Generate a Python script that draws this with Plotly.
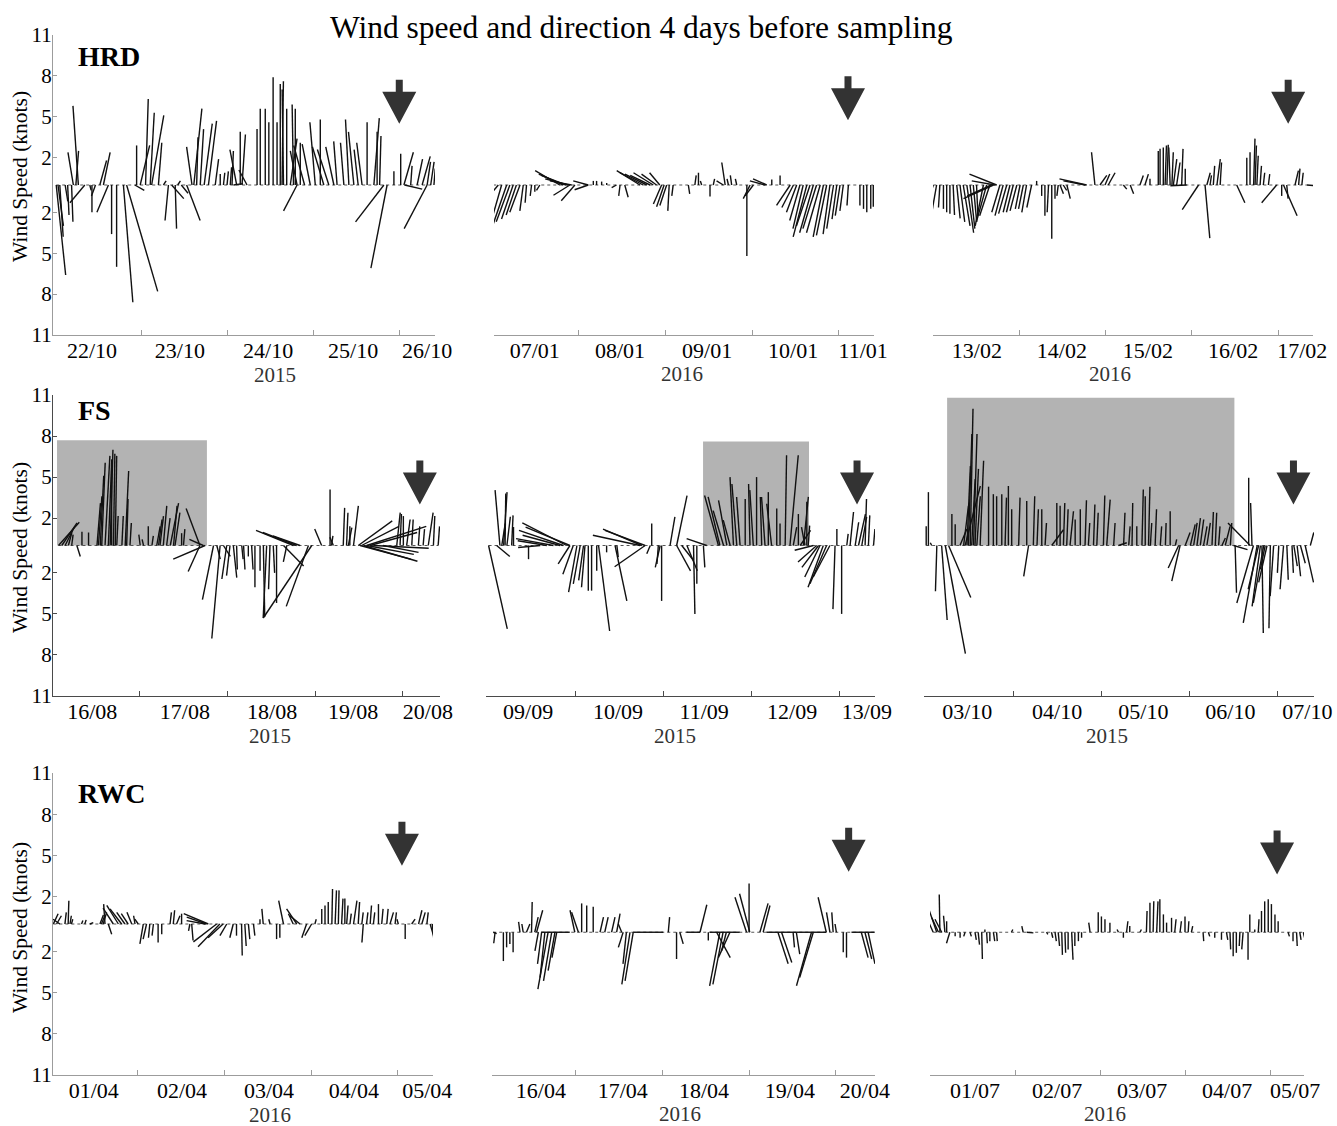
import plotly.graph_objects as go

FONT = "Liberation Serif"
W, H = 1337, 1126
K = 3.78  # hours of x drawn per knot of the east-west component (keeps stick angles true)

# ---------------- HRD : 22-26 Oct 2015 ----------------
hrd_oct_h = [0.0, 0.5, 1.0, 2.5, 3.2, 4.3, 4.8, 5.5, 6.2, 8.0, 9.4, 10.0, 11.0, 12.2, 13.2, 14.6, 15.5, 16.9, 18.8, 19.7,
             22.0, 22.5, 23.5, 25.0, 26.3, 26.7, 28.6, 30.0, 31.4, 32.3, 33.3, 34.0, 35.0, 36.5, 38.0, 38.5, 39.3, 40.3,
             41.4, 42.6, 44.5, 45.9, 46.8, 47.8, 48.7, 49.2, 49.6, 50.5, 51.5, 52.0, 53.4, 56.2, 57.1, 58.5, 59.5, 60.7,
             61.8, 62.7, 63.2, 63.6, 64.5, 65.5, 66.4, 66.9, 67.4, 67.4, 68.3, 69.5, 71.1, 72.5, 73.9, 74.9, 76.3, 77.7,
             78.6, 80.5, 81.9, 83.3, 84.5, 85.6, 87.0, 88.9, 89.8, 90.5, 91.7, 92.6, 94.5, 96.4, 97.3, 97.5, 99.2, 101.0,
             102.4, 103.8, 103.8, 104.8, 105.7]
hrd_oct_u = [0.7, 0.4, 0.25, 0.2, 0.1, 0.1, -0.4, 0.2, -0.4, -1.1, 0.1, 0.0, -0.3, 0.5, 0.5, -0.85, 0.0, 0.0, 0.7, 2.3,
             0.7, 0.0, 0.7, 0.2, 0.3, 0.9, 0.25, 0.2, -0.25, 0.9, 0.1, 0.2, 0.5, 1.0, -0.4, 0.6, 0.1, 0.25,
             0.6, 0.6, 0.25, 0.0, 0.1, 0.1, 0.1, 0.1, 0.7, -0.5, 0.0, 0.25, -0.6, 0.0, 0.0, 0.0, 0.0, 0.0,
             0.0, 0.0, 0.1, -0.1, 0.0, 0.5, -0.1, 0.0, -0.5, -1.0, 0.0, -0.8, -0.6, -0.4, 0.0, -0.85, -0.85, -0.6,
             -0.25, -0.25, -0.25, -0.4, -0.3, -0.4, 0.0, 0.4, 0.0, 0.1, -2.1, -1.2, 0.0, 0.0, 0.7, 1.3, 0.1, 0.4,
             0.6, -1.7, 0.25, 0.25, 0.1]
hrd_oct_v = [-6.6, -3.0, -3.8, -1.2, -2.2, -2.7, 2.4, 2.5, 5.8, -1.3, -0.4, -2.0, -0.8, 1.8, 2.4, -2.0, -3.6, -6.0, -8.6, -7.8,
             -0.4, 2.9, 2.9, 6.3, 5.3, 5.1, 3.1, 0.3, -2.6, -1.0, -3.2, 0.3, -0.6, -2.6, 2.8, 5.6, 3.5, 4.1,
             4.5, 4.7, 1.9, 0.8, 0.9, 1.0, 1.3, 2.5, 0.1, 2.6, 3.9, 3.7, 1.1, 4.1, 5.6, 5.6, 4.6, 7.9,
             4.6, 7.4, 7.6, 7.0, 5.6, 3.4, 5.9, 5.6, 2.5, -1.9, 3.1, 2.9, 3.0, 4.6, 4.8, 2.8, 2.6, 2.8,
             3.2, 3.1, 4.8, 3.9, 2.6, 3.1, 4.6, 4.9, 3.9, 3.6, -2.7, -6.1, 1.0, 2.3, 2.4, -0.3, 1.4, 1.9,
             2.1, -3.2, 1.7, 1.7, 1.2]

# ---------------- HRD : 07-11 Jan 2016 ----------------
hrd_jan_h = [0.3, 1.7, 2.6, 4.0, 4.9, 5.8, 6.7, 7.7, 8.6, 9.5, 10.9, 11.8, 13.2, 18.7, 19.7, 20.4, 21.1, 22.0, 22.9, 21.5,
             26.6, 26.6, 28.0, 28.9, 30.3, 31.7, 34.4, 35.4, 36.7, 40.9, 41.8, 42.8, 43.7, 44.6, 45.5, 46.4, 46.9, 47.6,
             48.3, 49.0, 50.1, 54.3, 56.1, 57.1, 58.0, 60.3, 61.2, 64.0, 64.5, 65.4, 66.3, 67.7, 70.5, 71.4, 72.3, 75.5,
             76.0, 77.4, 79.7, 82.5, 83.4, 84.3, 85.2, 86.1, 87.1, 88.0, 88.9, 89.8, 90.8, 91.7, 92.6, 93.5, 94.5, 95.4,
             96.3, 97.2, 98.6, 101.8, 102.8, 103.7, 104.8, 105.5]
hrd_jan_u = [-1.2, -1.1, -1.0, -1.1, -1.0, -0.85, -0.75, -0.75, -0.25, -0.1, -0.1, 0.0, -0.25, -1.8, -1.8, -1.8, -1.7, -1.6, -1.0, -1.2,
             -1.1, -1.0, 0.0, 0.0, 0.0, 0.0, -0.35, -0.1, 0.25, -1.7, -1.7, -1.6, -1.45, -1.45, -1.1, -0.75, -0.6, -0.55,
             -0.5, -0.1, -0.1, 0.1, 0.1, 0.0, -0.1, 0.0, 0.1, -0.5, -0.25, -0.1, -0.1, -0.1, 0.0, -0.5, -0.6, -1.1,
             -1.0, 0.0, 0.0, -1.0, -0.85, -0.75, -0.75, -0.75, -1.0, -1.0, -1.0, -1.0, -1.0, -0.75, -0.75, -0.5, -0.5, -0.35,
             -0.35, -0.25, -0.1, 0.0, 0.0, 0.0, 0.0, 0.0]
hrd_jan_v = [-1.9, -1.3, -3.5, -3.2, -2.7, -2.5, -2.2, -2.0, -1.9, -1.3, -0.8, -0.5, -0.4, 1.05, 0.8, 0.7, 0.45, 0.3, -1.15, -0.75,
             0.3, -0.35, 0.3, 0.3, 0.25, 0.15, -0.2, -0.8, -0.9, 1.05, 0.9, 0.8, 0.7, 0.9, 0.8, 0.9, -1.4, -1.6,
             -1.5, -1.9, -0.8, -0.65, 0.7, 0.9, 0.3, -0.85, 0.45, 0.3, 1.65, 0.45, 0.7, 0.45, -5.2, -1.0, -0.8, 0.3,
             0.45, 0.4, 0.7, -1.5, -1.65, -2.0, -2.6, -3.2, -3.8, -3.0, -3.5, -3.2, -3.5, -3.8, -3.7, -3.6, -3.2, -2.5,
             -2.25, -1.9, -1.5, -1.5, -1.75, -2.0, -1.75, -1.6]

# ---------------- HRD : 13-17 Feb 2016 ----------------
hrd_feb_h = [0.2, 1.1, 2.0, 3.0, 3.9, 4.8, 5.7, 6.7, 7.6, 8.5, 9.5, 10.4, 11.3, 12.2, 14.1, 15.0, 15.9, 16.4, 16.9, 17.3,
             17.8, 18.7, 19.6, 20.6, 21.5, 22.4, 23.4, 24.3, 25.2, 26.1, 27.5, 28.9, 30.3, 31.2, 32.2, 33.1, 34.0, 34.9,
             35.4, 36.3, 37.3, 42.4, 42.8, 45.1, 46.5, 47.9, 48.8, 53.0, 54.9, 57.6, 59.0, 60.4, 62.7, 63.2, 64.1, 64.6,
             65.1, 66.0, 66.5, 66.9, 67.8, 69.2, 70.2, 70.6, 73.9, 75.7, 76.2, 77.1, 78.0, 79.0, 79.9, 84.5, 87.3, 88.2,
             89.2, 89.6, 90.1, 91.0, 91.9, 93.3, 95.6, 97.0, 97.5, 98.4, 100.7, 101.7, 102.6, 104.0]
hrd_feb_u = [-0.6, -0.35, -0.1, 0.0, 0.0, 0.0, 0.1, 0.25, 0.35, 0.5, 0.5, 0.35, 0.25, 0.1, -0.6, -0.75, -0.75, -1.8, -2.2, -1.7,
             -2.0, -0.6, -0.6, -0.6, -0.5, -0.5, -0.5, -0.35, -0.35, -0.35, -0.35, 0.0, 0.0, 0.0, -0.1, 0.0, 0.0, -0.1,
             0.25, 0.25, 0.25, -1.6, -2.0, -0.25, 0.5, 0.35, 0.5, 0.25, 0.25, 0.25, 0.25, 0.0, 0.0, 0.0, 0.0, 0.1,
             0.1, -0.1, 0.1, 0.25, 0.25, 0.1, 0.0, -1.2, -1.2, 0.35, 0.25, 0.1, 0.1, 0.25, 0.1, 0.6, 0.0, 0.0,
             0.1, 0.1, 0.1, 0.1, 0.1, 0.1, -1.1, 0.0, 1.0, 0.1, 0.25, 0.1, 0.1, 0.6]
hrd_feb_v = [-1.75, -2.0, -1.65, -1.75, -2.0, -2.1, -2.2, -2.45, -2.7, -3.0, -3.5, -3.2, -2.7, -2.25, -3.0, -2.7, -2.25, -0.8, -1.0, 0.3,
             0.8, -2.0, -2.25, -2.1, -2.0, -2.0, -1.9, -1.75, -1.75, -2.0, -1.65, 0.3, -0.8, -2.25, -2.0, -3.95, -1.0, -0.8,
             -0.65, -0.4, -1.0, 0.3, 0.45, 2.4, 0.7, 0.8, 0.9, -0.3, -0.65, 0.7, 0.8, 0.45, 2.5, 2.65, 2.75, 2.9,
             2.95, 2.75, 2.4, 1.9, 1.65, 2.65, 1.2, -0.05, -1.8, -3.9, 0.9, 0.7, 1.4, 1.9, 1.65, -1.3, 2.0, 2.4,
             3.4, 2.9, 2.15, 1.4, 0.9, 0.8, -1.3, -0.8, -2.25, -1.0, 1.05, 1.2, 0.9, -0.05]

# ---------------- FS : 16-20 Aug 2015 ----------------
fs_aug_h = [2.0, 2.9, 3.8, 4.7, 5.6, 7.0, 8.4, 10.2, 12.5, 12.9, 13.4, 13.8, 14.7, 15.6, 16.1, 16.5, 17.0, 17.5, 17.9, 19.3,
            20.2, 20.6, 21.5, 24.3, 25.2, 26.5, 27.5, 28.8, 29.3, 29.7, 30.6, 31.5, 32.5, 33.4, 33.8, 35.6, 36.1, 40.6,
            41.5, 42.0, 40.6, 44.3, 46.1, 45.2, 47.0, 47.9, 48.8, 49.7, 50.6, 52.0, 52.5, 53.8, 54.7, 55.6, 57.0, 57.9,
            58.8, 59.7, 60.6, 61.5, 71.1, 70.2, 66.1, 67.0, 67.9, 63.4, 64.3, 73.8, 76.1, 76.5, 77.0, 79.7, 80.6, 81.1,
            81.5, 82.5, 83.8, 84.7, 86.1, 87.0, 84.3, 85.2, 86.1, 87.9, 90.6, 94.3, 95.2, 96.1, 97.0, 98.4, 100.2, 101.5,
            102.9, 104.3, 105.6]
fs_aug_u = [1.5, 1.1, 0.65, 0.25, 0.1, 0.25, 0.0, 0.0, 0.25, 0.25, 0.25, 0.25, 0.35, 0.25, 0.2, 0.0, 0.1, 0.1, 0.1, 0.1,
            0.25, 0.1, 0.1, -0.1, -0.1, 0.0, 0.1, 0.25, 0.25, 0.25, 0.25, 0.25, 0.6, 0.25, 0.35, 0.0, 0.1, -1.0,
            -1.0, -2.3, -0.85, -0.8, -0.6, 0.25, 0.5, -0.35, -0.25, 0.25, 0.05, 0.1, 0.1, 0.0, 0.1, 0.0, 0.0, 0.1,
            -0.25, -0.1, 0.1, 0.0, -3.5, -1.6, -2.7, -2.45, -1.95, 1.45, -0.25, -0.5, 0.0, 0.1, -0.25, 0.1, 0.1, 0.25,
            0.0, 0.35, 2.45, 2.7, 4.3, 3.4, 3.65, 3.9, 3.4, 4.0, 2.55, 0.25, 0.1, 0.0, 0.25, 0.1, 0.1, 0.1,
            0.35, 0.1, 0.1]
fs_aug_v = [1.7, 1.65, 1.3, 0.95, 0.8, -0.8, 1.0, 0.95, 3.1, 3.6, 5.1, 6.05, 6.55, 6.3, 7.0, 6.05, 6.7, 6.55, 2.15, 2.15,
            5.45, 3.4, 1.65, 0.8, 0.45, 1.4, 0.7, 1.4, 1.9, 2.15, 2.9, 2.0, 3.1, 2.9, 2.4, 0.9, 1.2, 2.7,
            0.45, -1.0, -1.9, -3.95, -6.8, -1.0, -0.8, -2.45, -2.2, -2.35, -1.75, -1.0, -1.75, -0.8, -1.75, -3.05, -1.85, -5.2,
            -5.3, -3.2, -2.0, -4.2, -5.3, -4.45, 1.1, 0.95, 0.7, -1.5, -1.2, 1.2, 4.1, 0.7, 0.6, 2.75, 2.4, 1.3,
            1.4, 2.9, 1.8, 1.4, 1.4, 0.95, -1.0, -1.15, -0.65, -0.2, -0.5, 2.4, 2.3, 2.15, 1.9, 1.9, 1.4, 1.2,
            2.4, 2.15, 1.4]

# ---------------- FS : 09-13 Sep 2015 ----------------
fs_sep_h = [0.4, 2.6, 3.5, 4.5, 4.9, 4.0, 5.4, 6.7, 7.2, 11.3, 14.5, 16.3, 18.1, 19.9, 20.8, 21.7, 22.6, 22.6, 23.5, 24.5,
            25.4, 26.3, 26.7, 27.6, 28.5, 29.9, 30.4, 32.6, 34.9, 35.4, 41.7, 42.2, 43.1, 43.1, 44.5, 44.9, 46.7, 47.2,
            47.6, 49.9, 51.7, 51.7, 53.1, 54.5, 56.3, 57.2, 59.0, 59.9, 63.1, 63.5, 64.5, 65.4, 66.3, 67.2, 68.1, 69.0,
            70.4, 71.7, 72.6, 73.5, 74.9, 75.8, 76.7, 77.6, 79.0, 79.9, 81.3, 82.6, 83.5, 84.9, 85.4, 86.3, 86.7, 87.2,
            87.6, 89.0, 89.9, 90.4, 90.8, 91.7, 92.6, 93.5, 94.9, 95.4, 96.7, 98.1, 99.0, 100.4, 101.3, 102.2, 103.1, 104.0,
            105.4]
fs_sep_u = [1.35, 0.95, -0.35, 0.25, 0.05, 0.25, 0.25, 0.1, 0.0, 0.0, -1.6, -2.1, -2.7, -2.7, -3.2, -3.2, -3.2, -0.85, -0.75, -0.6,
            -0.5, -0.35, -0.25, 0.0, 0.0, 0.0, 0.8, 0.0, 0.85, 0.1, -3.4, -2.8, -2.9, -2.2, -0.25, 0.0, -0.1, -0.35,
            0.0, 0.35, 0.75, 1.0, 0.85, 0.75, 0.1, 0.0, 0.1, -1.45, -1.0, -0.85, -0.75, -0.6, -0.5, -0.25, -0.35, -0.25,
            0.0, -0.1, -0.25, 0.0, -0.1, -0.25, 0.0, -0.35, 0.0, 0.0, 0.1, 0.6, 0.25, 0.0, 0.75, 0.35, -0.25, 0.0,
            0.1, -1.35, -1.35, -1.2, -1.1, -1.1, -1.2, -1.2, -0.15, 0.0, 0.0, 0.1, 0.25, 0.25, 0.5, 0.35, 0.1, 0.1,
            0.1]
fs_sep_v = [-6.1, -0.8, 4.05, 3.9, 3.8, 1.6, 2.1, 2.2, 1.35, -1.0, -0.15, 0.35, 0.5, 0.75, 1.1, 1.65, 1.35, -1.35, -2.1, -3.4,
            -2.8, -2.55, -3.05, -3.3, -3.3, -1.85, -6.25, -0.5, -4.05, -0.85, 0.75, 1.2, 1.1, -1.55, -0.6, 1.6, -1.35, -1.6,
            -4.05, 2.1, 3.65, -1.85, -1.1, -1.85, -5.0, -2.8, -1.6, 0.5, 3.65, 3.55, 2.55, 3.3, 1.85, 5.0, 4.5, 3.55,
            3.4, 4.5, 4.05, 5.0, 3.55, 3.55, 3.9, 3.05, 2.7, 1.6, 6.6, 6.6, 1.35, 2.3, 1.1, 3.55, 1.35, 3.2,
            1.45, -0.35, -1.2, -1.6, -2.3, -3.05, -2.8, -2.3, -4.65, 1.2, -5.0, 0.85, 2.45, 1.7, 2.3, 2.1, 3.4, 2.2,
            1.2]

# ---------------- FS : 03-07 Oct 2015 ----------------
fs_oct_h = [0.3, 0.9, 1.8, 3.2, 4.5, 5.5, 6.4, 7.3, 8.2, 9.5, 10.5, 10.9, 11.4, 11.8, 12.3, 12.7, 13.2, 13.6, 14.1, 15.0,
            17.3, 18.6, 19.5, 20.9, 21.8, 22.7, 23.6, 25.5, 27.7, 28.2, 29.5, 30.5, 31.8, 32.7, 34.5, 35.9, 36.8, 37.7,
            38.6, 39.5, 40.9, 42.3, 43.6, 44.5, 45.9, 46.8, 48.6, 49.5, 51.4, 52.7, 54.1, 55.5, 56.4, 57.7, 59.1, 60.0,
            60.9, 61.4, 62.7, 64.1, 65.5, 66.8, 68.2, 69.1, 69.5, 70.9, 72.3, 73.2, 74.1, 75.0, 75.9, 76.8, 78.2, 79.1,
            80.0, 80.9, 81.8, 83.2, 84.1, 84.5, 88.2, 88.6, 89.1, 89.5, 90.5, 90.9, 91.4, 91.8, 92.3, 92.7, 93.2, 94.1,
            95.0, 96.4, 97.7, 98.6, 100.0, 100.5, 101.4, 102.3, 103.6, 105.0]
fs_oct_u = [0.0, 0.0, -0.1, -0.1, 0.4, 1.45, 1.6, 0.0, 0.0, 0.5, 0.35, 1.1, 0.25, 0.25, 0.2, 0.25, 0.25, 0.25, 0.25, 0.25,
            0.0, 0.0, 0.0, 0.0, 0.1, 0.0, 0.0, 0.1, 0.0, -0.35, 0.1, 0.1, 0.0, 0.1, 0.85, 0.0, 0.0, 0.1,
            0.1, 0.25, 0.0, 0.0, 0.1, 0.1, 0.1, 0.1, 0.1, 0.25, 0.1, 0.6, 0.1, 0.1, 0.05, 0.0, 0.1, 0.0,
            0.1, 0.1, 0.1, 0.1, 0.05, 0.0, 0.1, -0.75, -0.6, 0.35, 0.35, 0.25, 0.25, 0.25, 0.25, 0.25, 0.1, 0.1,
            0.1, 0.25, 0.35, 0.1, 1.0, 0.1, 0.0, -1.6, -0.1, -1.2, -1.0, -0.75, -0.6, 0.1, -0.75, -0.35, -0.6, -0.1,
            -0.25, -0.1, -0.25, 0.1, 0.1, 0.25, 0.25, 0.35, 0.6, 0.25]
fs_oct_v = [1.4, 3.9, 0.2, -3.35, -5.45, -7.9, -3.8, 2.3, 1.55, 1.2, 2.9, 4.35, 5.8, 8.15, 10.0, 4.85, 8.15, 5.6, 3.6, 6.2,
            4.3, 3.75, 3.6, 3.75, 3.5, 4.35, 2.65, 3.5, 3.25, -2.25, 3.6, 2.65, 2.65, 1.65, 1.15, 3.1, 2.9, 3.1,
            2.65, 2.5, 1.9, 2.65, 3.3, 1.65, 3.0, 2.4, 3.65, 3.35, 1.65, 0.2, 2.4, 1.4, 3.1, 1.4, 4.1, 3.6,
            4.3, 1.65, 2.65, 1.4, 1.65, 2.5, 0.45, -1.65, -2.6, 0.95, 1.55, 1.65, 2.0, 1.9, 1.4, 1.65, 2.45, 2.4,
            1.4, 0.55, 1.4, 1.65, -0.3, -3.45, 4.95, 1.65, 3.1, -4.2, -5.65, -3.2, -4.45, -6.4, -4.2, -1.75, -2.7, -6.05,
            -3.7, -2.0, -3.2, -2.5, -2.0, -1.5, -2.25, -1.3, -2.7, 0.95]

# ---------------- RWC : 01-05 Apr 2016 ----------------
rwc_apr1_h = [0.6, 1.5, 2.4, 3.8, 4.7, 5.2, 5.6, 8.4, 9.3, 10.7, 13.5, 13.9, 14.4, 14.9, 15.8, 17.2, 18.6, 19.5, 20.4, 21.3,
              22.3, 23.2, 24.1, 25.5, 26.4, 27.3, 28.3, 29.6, 30.6, 32.9, 33.8, 34.7, 36.1, 38.4, 38.9, 42.6, 43.0, 43.5,
              45.8, 46.7, 47.6, 48.6, 50.4, 51.3, 52.7, 53.6, 54.6, 56.0, 57.8, 58.7, 60.6, 62.4, 63.3, 64.3, 67.0, 68.0,
              68.9, 70.7, 72.1, 73.0, 74.9, 75.8, 76.7, 77.7, 78.6, 79.5, 80.4, 81.3, 81.8, 82.7, 83.7, 85.0, 86.0, 86.4,
              87.3, 88.3, 89.2, 90.6, 91.5, 92.9, 93.8, 95.2, 96.1, 98.0, 99.8, 101.7, 102.6, 104.0, 104.9, 105.5]
rwc_apr1_u = [0.35, 0.35, -0.5, 0.1, 0.05, 0.1, 0.1, 0.1, 0.1, 0.25, 0.25, 0.25, 0.25, -0.1, 0.25, -0.75, -0.85, -0.85, -0.6, -0.5,
              -0.35, -0.1, -0.25, -0.25, -0.25, -0.1, -0.1, 0.0, 0.0, 0.1, 0.1, 0.25, 0.0, -0.1, 0.1, -1.35, -1.45, -1.8,
              -1.7, -1.6, -1.1, -0.5, -0.25, 0.0, 0.05, 0.1, 0.1, 0.1, 0.0, -0.1, -0.1, 0.0, 0.0, -0.35, -0.35, -0.75,
              -0.75, -0.35, -0.5, 0.1, 0.0, 0.0, 0.0, 0.05, 0.1, 0.05, 0.1, 0.0, 0.1, 0.1, 0.25, 0.1, 0.1, -0.1,
              0.1, 0.1, 0.1, 0.0, 0.1, 0.1, 0.25, 0.1, -0.1, 0.0, 0.25, 0.25, 0.25, 0.1, 0.25, 0.1]
rwc_apr1_v = [0.75, 0.6, 0.35, 0.85, 1.7, 0.6, 0.35, 0.25, 0.3, 0.1, 0.65, 0.6, 0.85, 1.45, -0.75, 1.15, 1.35, 1.1, 0.85, 0.75,
              0.85, 0.6, 0.35, -1.45, -1.1, -1.0, -0.85, -1.35, -0.75, 0.85, 1.0, 0.6, 0.75, -0.5, -1.2, 0.25, 0.5, 0.75,
              -1.3, -1.65, -1.0, -0.85, -1.0, -0.85, -2.3, -1.6, -1.1, -0.85, 0.35, 1.1, 0.35, -1.1, -1.0, 1.7, 0.75, 1.1,
              0.6, -1.0, -0.85, 0.35, 1.1, 1.35, 1.6, 2.55, 2.45, 2.45, 1.85, 1.85, 1.35, 0.75, 1.7, 1.6, 0.85, -1.35,
              0.85, 1.35, 0.85, 1.45, 1.1, 1.1, 0.85, 0.85, 0.35, -1.1, 0.35, 1.0, 0.85, 0.85, -0.85, -1.0]

# ---------------- RWC : 16-20 Apr 2016 ----------------
rwc_apr2_h = [1.1, 1.6, 3.9, 4.8, 5.7, 6.6, 8.5, 9.4, 10.3, 11.7, 12.6, 13.1, 13.6, 14.5, 15.4, 16.3, 17.3, 18.2, 18.7, 22.3,
              23.7, 24.7, 25.6, 27.0, 28.8, 30.7, 32.0, 33.9, 35.3, 36.7, 37.1, 38.0, 39.0, 39.9, 48.2, 49.6, 51.9, 52.8,
              58.4, 58.4, 60.7, 69.4, 63.9, 64.8, 65.7, 63.0, 66.7, 71.3, 72.2, 72.0, 75.0, 75.9, 85.1, 93.4, 80.0, 81.0,
              84.2, 85.1, 89.3, 89.8, 93.4, 94.4, 95.3, 96.2, 98.1, 99.0, 106.8, 103.1, 104.1, 105.0]
rwc_apr2_u = [0.25, -0.1, 0.0, 0.0, 0.0, 0.0, -0.1, -0.1, 0.25, 0.05, 0.25, 0.45, -0.25, -0.3, -0.35, -0.75, -0.6, -0.5, -0.35, -2.1,
              -0.35, -0.5, 0.0, 0.0, 0.0, 0.25, 0.25, 0.25, 0.25, -0.25, -0.35, -0.25, -0.6, -0.6, -2.2, 0.1, 0.0, 0.25,
              -1.0, 0.5, 0.0, -2.2, -0.75, -0.75, -0.35, 1.0, -0.85, -0.85, -0.75, 0.0, 0.6, 0.5, -2.2, -2.2, 0.75, 0.75,
              0.1, 0.25, -1.1, -1.0, -0.6, -0.25, -0.1, -0.1, 0.0, 0.0, -1.7, 0.5, 0.5, 0.5]
rwc_apr2_v = [-0.1, -0.8, -2.1, -1.1, -0.85, -1.45, 0.75, 0.6, 0.6, 2.2, 1.1, 1.6, -1.35, -2.3, -3.3, -4.15, -3.55, -2.8, -1.85, 0.0,
              1.6, 1.45, 2.1, 1.95, 1.85, 1.1, 1.1, 1.1, 1.35, 0.6, -1.1, -2.3, -3.8, -3.55, 0.0, 1.1, -1.95, -0.85,
              0.0, 2.0, -0.6, 0.0, -3.9, -3.8, -1.35, -1.85, -1.85, 2.55, 2.8, 3.55, 2.1, 1.95, 0.0, 0.0, -2.3, -2.2,
              -1.1, -1.6, -3.9, -3.3, 2.55, 1.45, 1.45, 0.6, -1.45, -1.85, 0.0, -1.85, -1.95, -2.3]

# ---------------- RWC : 01-05 Jul 2016 ----------------
rwc_jul_h = [0.9, 1.9, 2.4, 2.8, 3.3, 4.2, 4.7, 5.6, 7.1, 8.5, 9.9, 11.3, 12.7, 13.6, 14.6, 15.5, 16.0, 16.9, 17.9, 18.8,
             23.0, 26.3, 27.3, 32.9, 34.3, 35.3, 36.2, 37.2, 38.1, 39.0, 40.0, 40.9, 41.9, 42.8, 45.2, 47.5, 48.4, 49.4,
             50.8, 53.2, 54.6, 55.5, 56.4, 59.3, 61.1, 62.1, 63.0, 64.0, 64.9, 65.9, 66.8, 68.2, 69.1, 70.6, 72.0, 72.9,
             73.8, 77.1, 78.6, 80.4, 82.3, 83.7, 84.7, 85.6, 86.5, 87.5, 88.4, 89.8, 90.3, 91.7, 92.7, 93.6, 94.5, 95.5,
             96.4, 97.4, 98.3, 101.1, 102.5, 103.5, 104.4, 105.4]
rwc_jul_u = [-0.55, -0.6, -0.5, -0.05, -0.5, -0.1, 0.0, -0.25, 0.0, 0.0, -0.1, 0.1, 0.1, 0.1, 0.05, 0.0, 0.05, 0.0, 0.1, 0.05,
             0.1, -0.1, 0.5, 0.1, 0.1, 0.1, 0.1, 0.05, 0.05, 0.0, 0.1, 0.0, 0.0, 0.0, -0.1, 0.0, 0.0, 0.0,
             0.0, -0.1, 0.0, 0.1, 0.0, 0.1, 0.05, 0.0, 0.05, 0.1, 0.0, 0.0, 0.0, 0.0, 0.1, 0.1, 0.0, 0.05,
             0.1, 0.05, 0.1, 0.0, 0.0, 0.1, 0.05, 0.0, 0.0, -0.05, -0.1, 0.0, 0.0, 0.0, 0.05, 0.0, 0.0, 0.0,
             0.0, 0.0, 0.0, 0.1, 0.0, 0.05, 0.1, 0.1]
rwc_jul_v = [1.2, 1.7, 1.05, 2.75, 0.95, 1.2, 0.8, -0.8, -0.3, -0.4, -0.3, -0.3, -0.55, -0.9, -1.95, 0.2, -0.8, -0.65, -0.65, -0.65,
             0.2, 0.45, -0.05, -0.15, -0.4, -0.65, -1.0, -1.65, -1.5, -1.25, -2.0, -1.0, -0.65, -0.4, 0.7, 1.45, 1.15, 0.95,
             0.7, 0.2, -0.4, 0.8, 0.45, 0.2, 1.55, 2.15, 2.25, 2.25, 2.4, 1.3, 0.7, 1.05, 0.95, 0.8, 1.15, 0.8,
             0.45, -0.65, -0.3, -0.4, -0.55, -0.55, -1.25, -1.75, -1.5, -1.0, -1.25, -2.0, 1.3, 0.2, 0.95, 1.55, 2.25, 2.4,
             2.05, 1.3, 0.8, -0.3, -0.65, -1.0, -0.55, -0.4]

# highlighted periods (hours from start, top in knots)
fs_aug_box = (1.6, 42.5, 7.7)
fs_sep_box = (58.9, 87.8, 7.6)
fs_oct_box = (6.0, 84.3, 10.8)

# ---------------- panel layout ----------------
AX_LIGHT = "#9c9c9c"
AX_DARK = "#4a4a4a"
panels = [
    dict(h=hrd_oct_h, u=hrd_oct_u, v=hrd_oct_v, dx=(53, 435), dy=(35, 335), xr=(-0.9, 106.0), yr=(-11, 11),
         labels=["22/10", "23/10", "24/10", "25/10", "26/10"], lh=[10.0, 34.6, 59.3, 83.1, 103.8],
         year="2015", ypos=(275, 375), arrow=(96.0, 4.5), box=None, axc=AX_LIGHT),
    dict(h=hrd_jan_h, u=hrd_jan_u, v=hrd_jan_v, dx=(494, 874), dy=(35, 335), xr=(0.5, 105.7), yr=(-11, 11),
         labels=["07/01", "08/01", "09/01", "10/01", "11/01"], lh=[11.8, 35.4, 59.5, 83.3, 102.7],
         year="2016", ypos=(682, 374), arrow=(98.5, 4.75), box=None, axc=AX_LIGHT),
    dict(h=hrd_feb_h, u=hrd_feb_u, v=hrd_feb_v, dx=(933, 1313), dy=(35, 335), xr=(0.1, 105.7), yr=(-11, 11),
         labels=["13/02", "14/02", "15/02", "16/02", "17/02"], lh=[12.3, 35.9, 59.8, 83.5, 102.7],
         year="2016", ypos=(1110, 374), arrow=(98.8, 4.5), box=None, axc=AX_LIGHT),
    dict(h=fs_aug_h, u=fs_aug_u, v=fs_aug_v, dx=(53, 440), dy=(395, 696), xr=(0.5, 106.1), yr=(-11, 11),
         labels=["16/08", "17/08", "18/08", "19/08", "20/08"], lh=[11.2, 36.5, 60.3, 82.4, 102.8],
         year="2015", ypos=(270, 736), arrow=(100.6, 3.0), box=fs_aug_box, axc=AX_DARK),
    dict(h=fs_sep_h, u=fs_sep_u, v=fs_sep_v, dx=(486, 875), dy=(395, 696), xr=(-0.3, 105.8), yr=(-11, 11),
         labels=["09/09", "10/09", "11/09", "12/09", "13/09"], lh=[11.2, 35.7, 59.2, 83.2, 103.6],
         year="2015", ypos=(675, 736), arrow=(100.9, 3.0), box=fs_sep_box, axc=AX_DARK),
    dict(h=fs_oct_h, u=fs_oct_u, v=fs_oct_v, dx=(924, 1314), dy=(395, 696), xr=(-0.3, 106.0), yr=(-11, 11),
         labels=["03/10", "04/10", "05/10", "06/10", "07/10"], lh=[11.5, 36.0, 59.5, 83.2, 104.2],
         year="2015", ypos=(1107, 736), arrow=(100.4, 3.0), box=fs_oct_box, axc=AX_DARK),
    dict(h=rwc_apr1_h, u=rwc_apr1_u, v=rwc_apr1_v, dx=(53, 433), dy=(773, 1075), xr=(0.5, 105.7), yr=(-11, 11),
         labels=["01/04", "02/04", "03/04", "04/04", "05/04"], lh=[11.8, 36.2, 60.3, 83.8, 104.1],
         year="2016", ypos=(270, 1115), arrow=(97.1, 4.25), box=None, axc=AX_LIGHT),
    dict(h=rwc_apr2_h, u=rwc_apr2_u, v=rwc_apr2_v, dx=(492, 875), dy=(773, 1075), xr=(0.75, 106.9), yr=(-10.4, 11.6),
         labels=["16/04", "17/04", "18/04", "19/04", "20/04"], lh=[14.3, 37.0, 59.5, 83.3, 104.1],
         year="2016", ypos=(680, 1114), arrow=(99.6, 4.4), box=None, axc=AX_LIGHT),
    dict(h=rwc_jul_h, u=rwc_jul_u, v=rwc_jul_v, dx=(930, 1304), dy=(773, 1075), xr=(0.0, 105.6), yr=(-10.4, 11.6),
         labels=["01/07", "02/07", "03/07", "04/07", "05/07"], lh=[12.7, 35.9, 59.9, 83.9, 103.1],
         year="2016", ypos=(1105, 1114), arrow=(98.0, 4.2), box=None, axc=AX_LIGHT),
]

sites = [("HRD", 76, 56), ("FS", 76, 410), ("RWC", 76, 793)]
ytitle_rows = [177, 548, 928]


def fx(px):
    return px / W


def fy(px):
    return 1 - px / H


fig = go.Figure()
layout = dict(
    template="none",
    width=W, height=H, margin=dict(l=0, r=0, t=0, b=0, pad=0, autoexpand=False),
    paper_bgcolor="white", plot_bgcolor="white", showlegend=False,
    font=dict(family=FONT, color="black"),
)
shapes, annotations = [], []

for i, p in enumerate(panels, start=1):
    xa = "x" if i == 1 else f"x{i}"
    ya = "y" if i == 1 else f"y{i}"
    left_col = (i - 1) % 3 == 0

    # wind sticks: one segment per observation from the baseline to (u, v)
    xs, ys = [], []
    for h, u, v in zip(p["h"], p["u"], p["v"]):
        xs += [h, h + u * K, None]
        ys += [0, v, None]
    # calm-wind baseline over the sampled period
    fig.add_trace(go.Scatter(x=[min(p["h"]), max(p["h"])], y=[0, 0], mode="lines",
                             line=dict(color="#555", width=1, dash="dot"),
                             xaxis=xa, yaxis=ya, hoverinfo="skip"))
    fig.add_trace(go.Scatter(x=xs, y=ys, mode="lines", line=dict(color="#111", width=1.4),
                             xaxis=xa, yaxis=ya, hoverinfo="skip"))

    layout[f"xaxis{'' if i == 1 else i}"] = dict(
        domain=[fx(p["dx"][0]), fx(p["dx"][1])], range=list(p["xr"]), anchor=ya, automargin=False,
        showgrid=False, zeroline=False, showline=True, linecolor=p["axc"], linewidth=1,
        tickmode="array", tickvals=p["lh"], ticktext=p["labels"], ticks="",
        tickfont=dict(family=FONT, size=22, color="black"), ticklabelstandoff=-4,
        minor=dict(tickmode="array", tickvals=[24, 48, 72, 96], ticks="inside",
                   ticklen=5, tickcolor=p["axc"], tickwidth=1, showgrid=False),
    )
    layout[f"yaxis{'' if i == 1 else i}"] = dict(
        domain=[fy(p["dy"][1]), fy(p["dy"][0])], range=list(p["yr"]), anchor=xa, automargin=False,
        showgrid=False, zeroline=False, showline=left_col, linecolor=p["axc"], linewidth=1,
        tickmode="array", tickvals=[-11, -8, -5, -2, 2, 5, 8, 11],
        ticktext=["11", "8", "5", "2", "2", "5", "8", "11"],
        ticks="inside" if left_col else "", ticklen=4, tickcolor=p["axc"],
        showticklabels=left_col, tickfont=dict(family=FONT, size=21, color="black"),
        ticklabelstandoff=-4,
    )

    if p["box"] is not None:
        b0, b1, top = p["box"]
        shapes.append(dict(type="rect", xref=xa, yref=ya, x0=b0, x1=b1, y0=0, y1=top,
                           fillcolor="#b3b3b3", line=dict(width=0), layer="below"))

    # sampling-time arrow, tip at the sample time
    ah, ak = p["arrow"]
    shapes.append(dict(type="path", xref=xa, yref=ya, xsizemode="pixel", ysizemode="pixel",
                       xanchor=ah, yanchor=ak,
                       path="M -3.5 44 L 3.5 44 L 3.5 32 L 17 32 L 0 0 L -17 32 L -3.5 32 Z",
                       fillcolor="#333333", line=dict(width=0), layer="above"))

    annotations.append(dict(text=p["year"], xref="paper", yref="paper", x=fx(p["ypos"][0]), y=fy(p["ypos"][1]),
                            showarrow=False, xanchor="center", yanchor="middle",
                            font=dict(family=FONT, size=21, color="#333")))

for name, px, py in sites:
    annotations.append(dict(text=f"<b>{name}</b>", xref="paper", yref="paper", x=fx(px), y=fy(py),
                            showarrow=False, xanchor="left", yanchor="middle",
                            font=dict(family=FONT, size=28, color="black")))

for cy in ytitle_rows:
    annotations.append(dict(text="Wind Speed (knots)", xref="paper", yref="paper", x=fx(20), y=fy(cy),
                            showarrow=False, textangle=-90, xanchor="center", yanchor="middle",
                            font=dict(family=FONT, size=21.5, color="black")))

annotations.append(dict(text="Wind speed and direction 4 days before sampling", xref="paper", yref="paper",
                        x=fx(641), y=fy(28), showarrow=False, xanchor="center", yanchor="middle",
                        font=dict(family=FONT, size=31.5, color="black")))

layout["shapes"] = shapes
layout["annotations"] = annotations
fig.update_layout(**layout)
fig.write_html("out.html",
               post_script="document.body.style.margin='0px';"
                           "document.documentElement.style.overflow='hidden';")
